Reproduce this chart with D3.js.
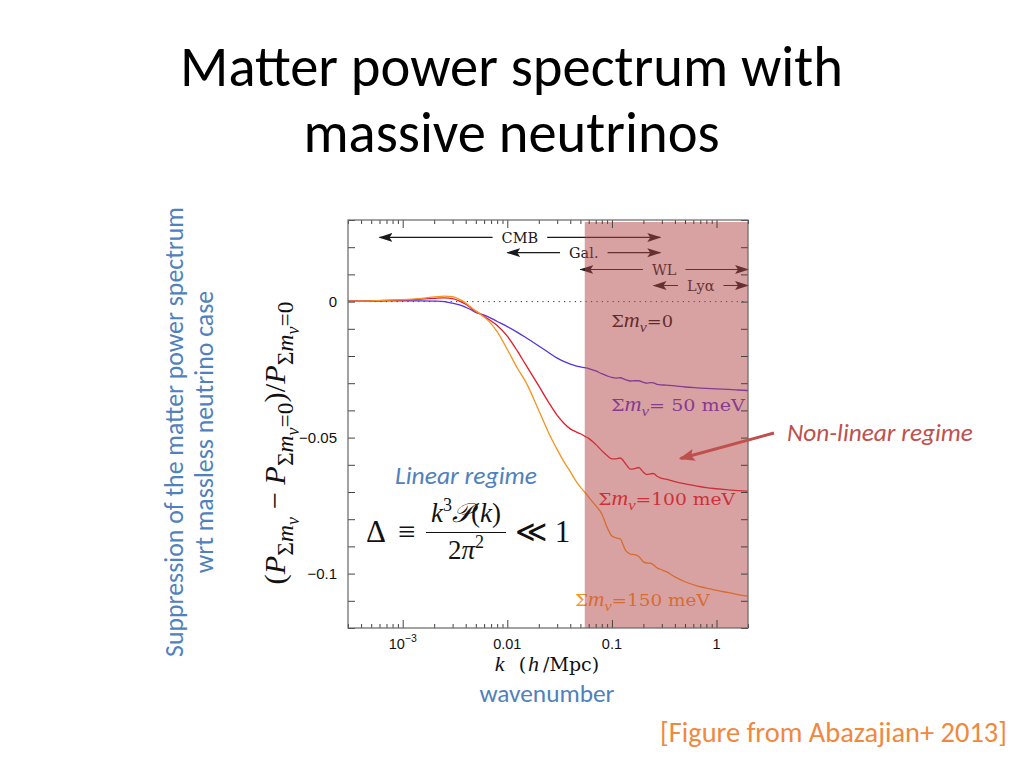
<!DOCTYPE html>
<html><head><meta charset="utf-8">
<script src="https://cdn.jsdelivr.net/npm/d3@7"></script>
<style>body{margin:0;background:#fff}</style>
</head><body><svg id="c" width="1024" height="768"></svg>
<script>
// ---------------- data ----------------
const kValues = [0.0003,0.0005,0.001,0.0015,0.002,0.0025,0.003,0.0035,0.004,0.0045,0.005,0.0055,0.0065,0.008,0.01,0.0125,0.015,0.02,0.025,0.03,0.035,0.04,0.045,0.05,0.055,0.06,0.07,0.08,0.09,0.1,0.11,0.12,0.135,0.15,0.165,0.18,0.2,0.215,0.235,0.25,0.27,0.29,0.33,0.4,0.5,0.65,0.8,1.0,1.3,1.6,2.0];
const supp50 = [0.0002,0.0002,0.0003,0.0003,0.0002,0.0,-0.0006,-0.0012,-0.0021,-0.003,-0.0040,-0.0045,-0.0055,-0.0073,-0.0092,-0.0113,-0.0132,-0.0163,-0.0188,-0.0208,-0.0221,-0.0230,-0.0236,-0.0240,-0.0243,-0.0246,-0.0255,-0.0265,-0.0273,-0.0279,-0.0281,-0.0280,-0.0287,-0.0292,-0.0291,-0.0291,-0.0297,-0.0300,-0.0298,-0.0299,-0.0304,-0.0306,-0.0307,-0.0310,-0.0314,-0.0317,-0.0319,-0.0321,-0.0323,-0.0325,-0.0327];
const supp100 = [0.0002,0.0003,0.0006,0.0009,0.0012,0.0014,0.0011,0.0002,-0.0010,-0.0024,-0.0037,-0.0045,-0.0063,-0.0088,-0.0127,-0.0182,-0.0232,-0.0310,-0.0372,-0.0418,-0.0448,-0.0468,-0.0478,-0.0486,-0.0495,-0.0503,-0.0525,-0.0548,-0.0566,-0.0578,-0.0578,-0.0575,-0.0596,-0.0616,-0.0614,-0.0610,-0.0627,-0.0636,-0.0633,-0.0632,-0.0642,-0.0648,-0.0653,-0.0662,-0.0670,-0.0678,-0.0684,-0.0688,-0.0692,-0.0695,-0.0697];
const supp150 = [0.0002,0.0003,0.0007,0.0012,0.0017,0.0020,0.0018,0.0008,-0.0005,-0.0021,-0.0034,-0.0045,-0.0068,-0.0110,-0.0176,-0.0245,-0.0295,-0.0400,-0.0485,-0.0544,-0.0590,-0.0625,-0.0658,-0.0682,-0.0701,-0.0719,-0.0750,-0.0780,-0.0830,-0.0862,-0.0869,-0.0872,-0.0915,-0.0928,-0.0930,-0.0936,-0.0957,-0.0961,-0.0962,-0.0968,-0.0979,-0.0984,-0.0993,-0.1012,-0.1030,-0.1045,-0.1053,-0.1062,-0.1070,-0.1077,-0.1083];
const seriesLabels = ["= 50 meV","=100 meV","=150 meV"];
const seriesColors = ["#5533dd","#e8192c","#f7931e"];
const labelK = [0.098, 0.074, 0.0443];
const labelY = [-0.0403, -0.0746, -0.1120];
const labelWidths = [134, 137, 135];
const xTickValues = [0.001, 0.01, 0.1, 1];
const xTickLabels = ["10", "0.01", "0.1", "1"];
const yTickValues = [0, -0.05, -0.1];
const yTickLabels = ["0", "\u22120.05", "\u22120.1"];
const probeNames = ["CMB", "Gal.", "WL", "Ly\u03B1"];
const probeKmin = [0.0006, 0.01, 0.05, 0.25];
const probeKmax = [0.29, 0.29, 2, 2];
const probeLevel = [0.0236, 0.0180, 0.0118, 0.0059];
const nonlinearKmin = 0.055;

// ---------------- setup ----------------
const svg = d3.select("#c");
const L = 348, R = 748, T = 220, B = 628;
const x = d3.scaleLog().domain([3e-4, 2]).range([L, R]);
const y = d3.scaleLinear().domain([-0.12, 0.03]).range([B, T]);
const calibri = "Carlito, Calibri, Lato, 'Open Sans', sans-serif";
const serif = "'DejaVu Serif', 'Liberation Serif', serif";
const serif2 = "'Liberation Serif', 'DejaVu Serif', serif";
const sans = "'Liberation Sans', Arial, sans-serif";

function fit(sel, w) {
  const len = sel.node().getComputedTextLength();
  const fs = parseFloat(sel.attr("font-size"));
  sel.attr("font-size", fs * w / len);
  return fs * w / len;
}

// title
const t1 = svg.append("text").attr("x", 511.5).attr("y", 86).attr("text-anchor", "middle")
  .attr("font-family", calibri).attr("font-size", 50).attr("fill", "#000").text("Matter power spectrum with");
const tfs = fit(t1, 663);
svg.append("text").attr("x", 511.5).attr("y", 152).attr("text-anchor", "middle")
  .attr("font-family", calibri).attr("font-size", tfs).attr("fill", "#000").text("massive neutrinos");

// rotated side label
const blue = "#4f81bd";
const s1 = svg.append("text").attr("transform", "translate(183,432) rotate(-90)").attr("text-anchor", "middle")
  .attr("font-family", calibri).attr("font-size", 20).attr("fill", blue).text("Suppression of the matter power spectrum");
const sfs = fit(s1, 450);
svg.append("text").attr("transform", "translate(213,432) rotate(-90)").attr("text-anchor", "middle")
  .attr("font-family", calibri).attr("font-size", sfs).attr("fill", blue).text("wrt massless neutrino case");

// ---------------- plot ----------------
const plot = svg.append("g");
plot.append("line").attr("x1", L).attr("x2", R).attr("y1", y(0)).attr("y2", y(0))
  .attr("stroke", "#333").attr("stroke-width", 1).attr("stroke-dasharray", "1.2,4.2");

const defs = svg.append("defs");
defs.append("marker").attr("id", "ah").attr("viewBox", "0 -5 14 10").attr("refX", 13).attr("refY", 0)
  .attr("markerWidth", 14).attr("markerHeight", 10).attr("markerUnits", "userSpaceOnUse")
  .attr("orient", "auto-start-reverse")
  .append("path").attr("d", "M0,-4.5 L14,0 L0,4.5 L3,0 Z").attr("fill", "#1a1a1a");
defs.append("marker").attr("id", "ahr").attr("viewBox", "0 -7 16 14").attr("refX", 14).attr("refY", 0)
  .attr("markerWidth", 16).attr("markerHeight", 14).attr("markerUnits", "userSpaceOnUse")
  .attr("orient", "auto")
  .append("path").attr("d", "M0,-6 L16,0 L0,6 L3,0 Z").attr("fill", "#c0504d");

// probe arrows: lines, then white gaps, then labels
const gLines = plot.append("g"), gGaps = plot.append("g"), gLabels = plot.append("g");
probeNames.forEach((n, i) => {
  const yy = y(probeLevel[i]);
  gLines.append("line").attr("x1", x(probeKmin[i])).attr("x2", x(probeKmax[i]))
    .attr("y1", yy).attr("y2", yy).attr("stroke", "#1a1a1a").attr("stroke-width", 1.1)
    .attr("marker-start", "url(#ah)").attr("marker-end", "url(#ah)");
  const cx = x(Math.sqrt(probeKmin[i] * probeKmax[i]));
  const tx = gLabels.append("text").attr("x", cx).attr("y", yy + 5.5).attr("text-anchor", "middle")
    .attr("font-family", serif).attr("font-size", 14.5).attr("fill", "#1a1a1a").text(n);
  const w = tx.node().getComputedTextLength();
  gGaps.append("rect").attr("x", cx - w / 2 - 9).attr("y", yy - 3).attr("width", w + 18).attr("height", 6).attr("fill", "#fff");
});

// curves
const line = d3.line().x((d) => x(d[0])).y((d) => y(d[1])).curve(d3.curveMonotoneX);
[supp50, supp100, supp150].forEach((s, i) => {
  plot.append("path").datum(kValues.map((k, j) => [k, s[j]]))
    .attr("d", line).attr("fill", "none").attr("stroke", seriesColors[i]).attr("stroke-width", 1.3);
});

// series labels
function sigmaLabel(g, xx, yy, rest, color, width) {
  const t = g.append("text").attr("x", xx).attr("y", yy).attr("font-family", serif).attr("font-size", 17).attr("fill", color);
  t.append("tspan").text("\u03A3");
  t.append("tspan").attr("font-family", serif2).attr("font-style", "italic").attr("font-size", 21).text("m");
  t.append("tspan").attr("font-family", serif2).attr("font-style", "italic").attr("font-size", 15).attr("dy", 5).text("\u03BD");
  t.append("tspan").attr("dy", -5).text(rest);
  const len = t.node().getComputedTextLength();
  t.attr("transform", `translate(${xx},${yy}) scale(${width / len},1) translate(${-xx},${-yy})`);
  return t;
}
sigmaLabel(plot, x(0.0985), y(-0.0092), "=0", "#111", 62);
seriesLabels.forEach((lab, i) => sigmaLabel(plot, x(labelK[i]), y(labelY[i]), lab, seriesColors[i], labelWidths[i]));

// non-linear shading (overlay)
plot.append("rect").attr("x", x(nonlinearKmin)).attr("y", T + 2).attr("width", R - x(nonlinearKmin)).attr("height", B - T - 2)
  .attr("fill", "#b44646").attr("fill-opacity", 0.5);

// frame + ticks
function minorTicks() {
  const out = [];
  for (let e = -4; e <= 0; e++) for (let m = 2; m <= 9; m++) {
    const v = m * Math.pow(10, e);
    if (v >= 3e-4 && v <= 2) out.push(v);
  }
  return out;
}
const xb = svg.append("g").attr("transform", `translate(0,${B})`);
xb.call(d3.axisBottom(x).tickValues(xTickValues).tickSize(-8).tickFormat(""));
xb.append("g").call(d3.axisBottom(x).tickValues(minorTicks()).tickSize(-4).tickFormat(""));
const xt = svg.append("g").attr("transform", `translate(0,${T})`);
xt.call(d3.axisTop(x).tickValues(xTickValues).tickSize(-8).tickFormat(""));
xt.append("g").call(d3.axisTop(x).tickValues(minorTicks()).tickSize(-4).tickFormat(""));
const yTicksAll = d3.range(-12, 4).map((v) => v / 100);
svg.append("g").attr("transform", `translate(${L},0)`).call(d3.axisLeft(y).tickValues(yTicksAll).tickSize(-7).tickFormat(""));
svg.append("g").attr("transform", `translate(${R},0)`).call(d3.axisRight(y).tickValues(yTicksAll).tickSize(-7).tickFormat(""));
svg.selectAll(".domain").remove();
svg.selectAll(".tick line").attr("stroke", "#444").attr("stroke-width", 1);
svg.append("rect").attr("x", L).attr("y", T).attr("width", R - L).attr("height", B - T)
  .attr("fill", "none").attr("stroke", "#666").attr("stroke-width", 1.2);

// tick labels
xTickValues.forEach((v, i) => {
  const t = svg.append("text").attr("x", x(v)).attr("y", 649).attr("text-anchor", "middle")
    .attr("font-family", sans).attr("font-size", 14.5).attr("fill", "#111");
  t.append("tspan").text(xTickLabels[i]);
  if (v === 0.001) t.append("tspan").attr("font-size", 10.5).attr("dy", -7).text("\u22123");
});
yTickValues.forEach((v, i) => {
  svg.append("text").attr("x", 337).attr("y", y(v) + 5).attr("text-anchor", "end")
    .attr("font-family", sans).attr("font-size", 15).attr("fill", "#111").text(yTickLabels[i]);
});

// x axis title: sequential pieces
const xParts = [
  {t: "k", f: serif2, s: 22, it: true, gap: 14},
  {t: "(", f: serif, s: 19, it: false, gap: 2},
  {t: "h", f: serif2, s: 22, it: true, gap: 4},
  {t: "/Mpc)", f: serif, s: 19, it: false, gap: 0}
];
const xlg = svg.append("g").attr("fill", "#111");
let cur = 0;
xParts.forEach((p) => {
  const tt = xlg.append("text").attr("x", cur).attr("y", 671).attr("font-family", p.f).attr("font-size", p.s)
    .attr("font-style", p.it ? "italic" : "normal").text(p.t);
  cur += tt.node().getComputedTextLength() + p.gap;
});
xlg.attr("transform", `translate(${547 - cur / 2},0)`);

// y axis math title
const ylg = svg.append("g");
const yl = ylg.append("text").attr("text-anchor", "middle")
  .attr("font-family", serif2).attr("font-size", 22).attr("fill", "#111");
let lvl = 0;
const offs = [0, 6, 10], sizes = [22, 17, 13];
function piece(txt, level, italic) {
  const ts = yl.append("tspan").attr("font-size", sizes[level]).text(txt);
  if (italic) ts.attr("font-style", "italic");
  if (level !== lvl) { ts.attr("dy", offs[level] - offs[lvl]); lvl = level; }
}
piece("(", 0); piece("P", 0, true); piece("\u03A3", 1); piece("m", 1, true); piece("\u03BD", 2, true);
piece(" \u2212 ", 0); piece("P", 0, true); piece("\u03A3", 1); piece("m", 1, true); piece("\u03BD", 2, true); piece("=0", 1);
piece(")/", 0); piece("P", 0, true); piece("\u03A3", 1); piece("m", 1, true); piece("\u03BD", 2, true); piece("=0", 1);
const ylen = yl.node().getComputedTextLength();
ylg.attr("transform", `translate(285,443) rotate(-90) scale(${283 / ylen})`);

// formula
const fm = svg.append("g").attr("font-family", serif2).attr("fill", "#111");
fm.append("text").attr("x", 366).attr("y", 542).attr("font-size", 31).text("\u0394");
fm.append("text").attr("x", 398).attr("y", 542).attr("font-size", 31).text("\u2261");
const num = fm.append("text").attr("x", 466).attr("y", 522).attr("text-anchor", "middle").attr("font-size", 27);
num.append("tspan").attr("font-style", "italic").text("k");
num.append("tspan").attr("font-size", 18).attr("dy", -11).text("3");
num.append("tspan").attr("dy", 11).attr("font-style", "italic").text("\uD835\uDCAB");
num.append("tspan").text("(");
num.append("tspan").attr("font-style", "italic").text("k");
num.append("tspan").text(")");
fm.append("line").attr("x1", 426).attr("x2", 506).attr("y1", 532.5).attr("y2", 532.5).attr("stroke", "#111").attr("stroke-width", 1.2);
const den = fm.append("text").attr("x", 466).attr("y", 559).attr("text-anchor", "middle").attr("font-size", 27);
den.append("tspan").text("2");
den.append("tspan").attr("font-style", "italic").text("\u03C0");
den.append("tspan").attr("font-size", 18).attr("dy", -11).text("2");
fm.append("text").attr("x", 515).attr("y", 542).attr("font-size", 31).text("\u226A 1");

// annotations
const lin = svg.append("text").attr("x", 395).attr("y", 484).attr("font-family", calibri).attr("font-style", "italic")
  .attr("font-size", 20).attr("fill", blue).text("Linear regime");
fit(lin, 142);
const red = "#c0504d";
const nl = svg.append("text").attr("x", 787).attr("y", 441).attr("font-family", calibri).attr("font-style", "italic")
  .attr("font-size", 20).attr("fill", red).text("Non-linear regime");
fit(nl, 186);
svg.append("line").attr("x1", 774).attr("y1", 433).attr("x2", x(0.454)).attr("y2", y(-0.0577))
  .attr("stroke", red).attr("stroke-width", 3).attr("marker-end", "url(#ahr)");
const wn = svg.append("text").attr("x", 547).attr("y", 702).attr("text-anchor", "middle").attr("font-family", calibri)
  .attr("font-size", 20).attr("fill", blue).text("wavenumber");
fit(wn, 135);
const cit = svg.append("text").attr("x", 660).attr("y", 742).attr("font-family", calibri)
  .attr("font-size", 22).attr("fill", "#f0883e").text("[Figure from Abazajian+ 2013]");
fit(cit, 347);
</script></body></html>
